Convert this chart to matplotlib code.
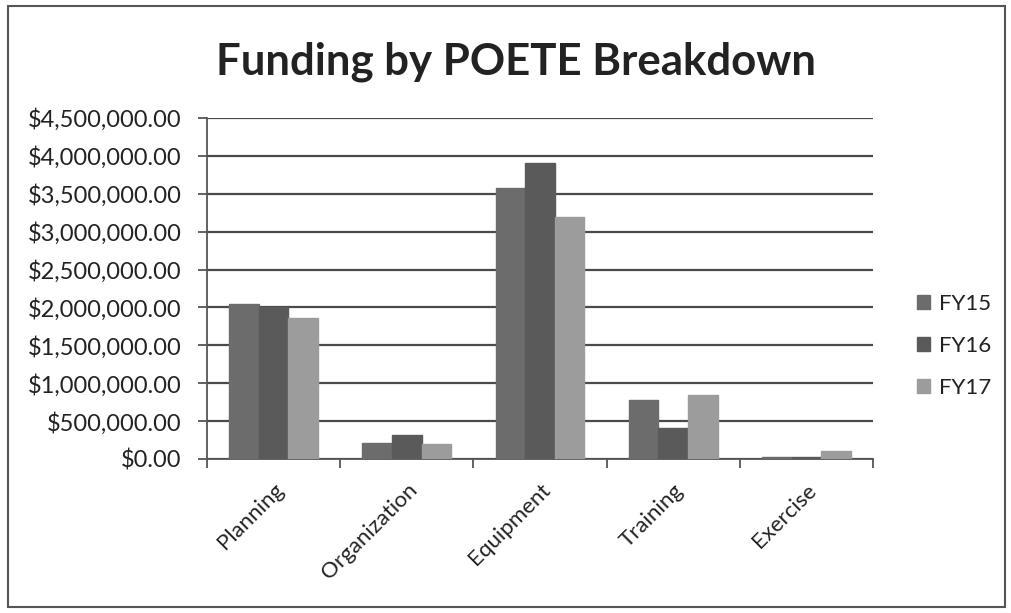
import numpy as np
import matplotlib
matplotlib.use("Agg")
import matplotlib.pyplot as plt
from matplotlib.ticker import FuncFormatter
from matplotlib.patches import Rectangle

plt.rcParams['font.family'] = ['Lato', 'DejaVu Sans']

categories = ["Planning", "Organization", "Equipment", "Training", "Exercise"]
series = ["FY15", "FY16", "FY17"]
fy15 = [2050000, 210000, 3575000, 780000, 22000]
fy16 = [2010000, 315000, 3905000, 405000, 22000]
fy17 = [1865000, 198000, 3195000, 840000, 105000]
colors = ["#6c6c6c", "#5a5a5a", "#9c9c9c"]

fig = plt.figure(figsize=(10.11, 6.13), dpi=100)
ax = fig.add_axes([207 / 1011, 1 - 459 / 613, (873 - 207) / 1011, (459 - 118) / 613])

# outer chart border
fig.patches.append(Rectangle((8 / 1011, 6 / 613), 997 / 1011, 601 / 613,
                             transform=fig.transFigure, fill=False,
                             edgecolor="#555555", lw=1.5))

x = np.arange(len(categories))
width = 1 / 4.5
for i, (vals, name) in enumerate(zip([fy15, fy16, fy17], series)):
    ax.bar(x + (i - 1) * width, vals, width, color=colors[i], label=name,
           edgecolor=colors[i], zorder=3)

ax.set_xlim(-0.5, len(categories) - 0.5)
ax.set_ylim(0, 4500000)
ax.set_yticks(np.arange(0, 4500001, 500000))
ax.yaxis.set_major_formatter(FuncFormatter(lambda v, p: f"${v:,.2f}"))
ax.grid(axis="y", color="#4a4a4a", lw=1.6, zorder=1)

ax.set_xticks(np.arange(-0.5, len(categories), 1.0))
ax.set_xticklabels([])
ax.set_xticks(x, minor=True)
ax.set_xticklabels(categories, minor=True, rotation=45, ha="right",
                   rotation_mode="anchor", fontsize=16, color="#222222")
ax.tick_params(axis="x", which="minor", length=0, pad=15)
ax.tick_params(axis="x", which="major", length=6.5, width=1.3, color="#555555")
ax.tick_params(axis="y", length=6.5, width=1.3, color="#555555",
               labelsize=17, labelcolor="#222222", pad=12)

for s in ["top", "right"]:
    ax.spines[s].set_visible(False)
for s in ["left", "bottom"]:
    ax.spines[s].set_color("#555555")
    ax.spines[s].set_linewidth(1.3)

fig.text(516 / 1011, 1 - 62 / 613, "Funding by POETE Breakdown", ha="center",
         va="center", fontsize=31.5, fontweight="bold", color="#222222")

ax.legend(loc="center left", bbox_to_anchor=(897 / 1011, 1 - 346 / 613),
          bbox_transform=fig.transFigure, frameon=False, fontsize=16,
          handlelength=0.6, handleheight=0.6, handletextpad=0.4,
          labelspacing=1.0, labelcolor="#222222")

fig.savefig("out.png", dpi=100)
